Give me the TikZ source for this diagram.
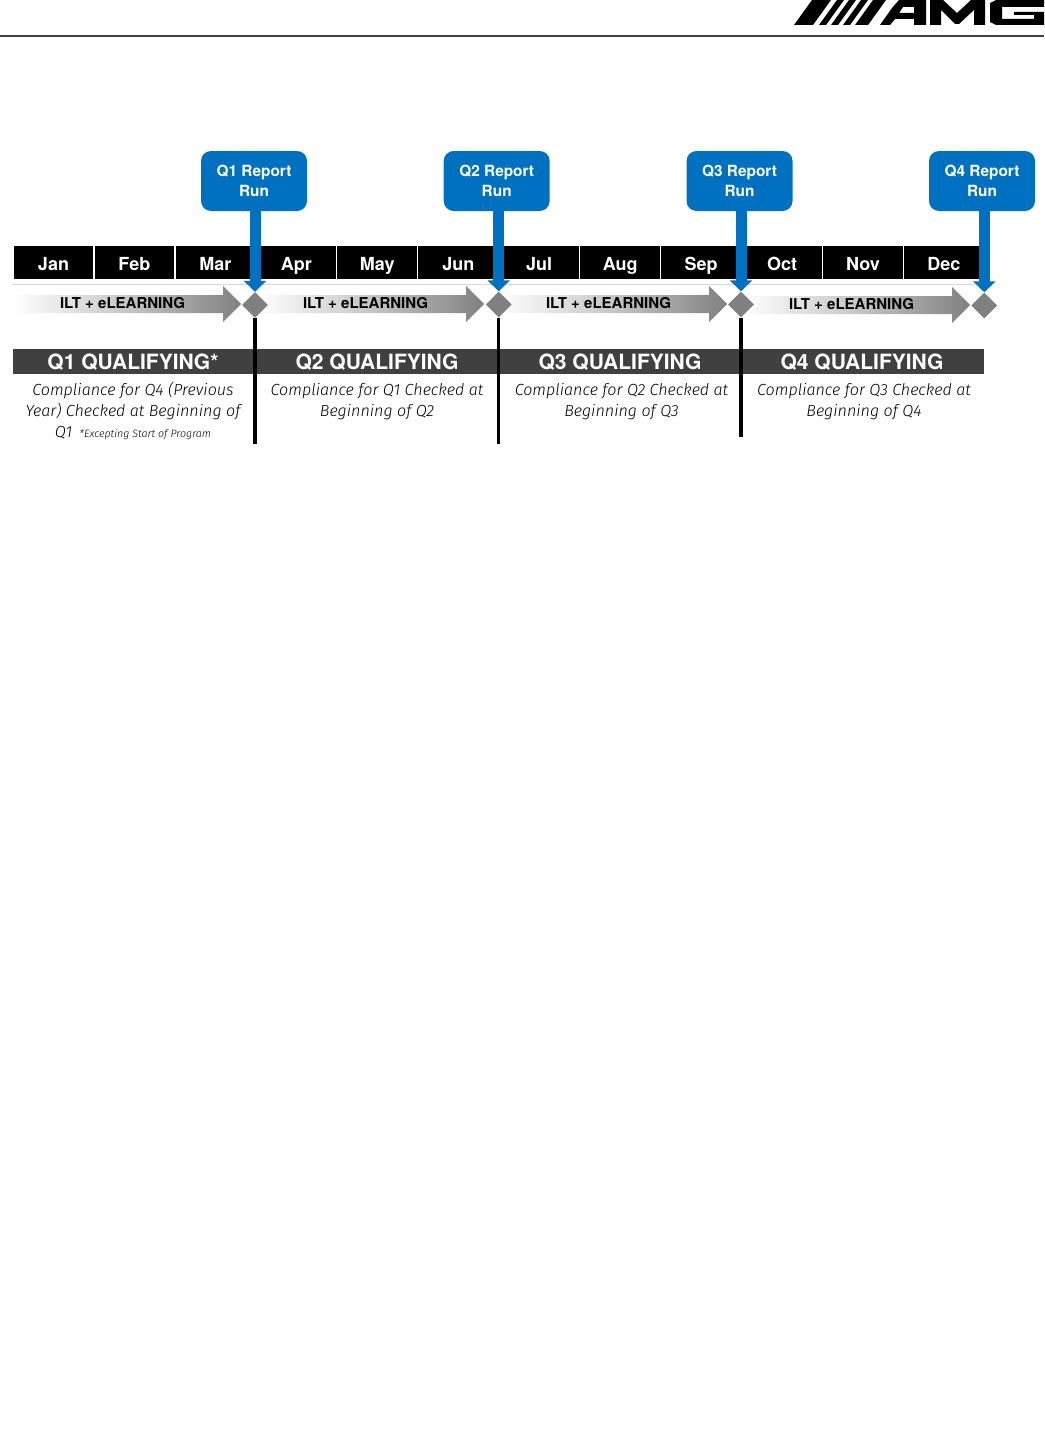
\documentclass[tikz,border=0pt]{standalone}
\usepackage{fontspec}
\setmainfont{TeX Gyre Heros}
\newfontfamily\descfont[ItalicFont={Fira Sans Light Italic}]{Fira Sans Light}
\usetikzlibrary{arrows.meta,shapes.geometric}
\definecolor{qblue}{HTML}{0070C0}
\definecolor{qdark}{HTML}{404040}
\definecolor{qgray}{HTML}{808080}
\tikzset{
  month/.style={fill=black,text=white,draw=white,line width=1.2pt,minimum width=81pt,minimum height=33.5pt,inner sep=0pt,font=\fontsize{18}{20}\selectfont\bfseries,text height=16pt,text depth=1pt},
  report/.style={fill=qblue,text=white,rounded corners=10pt,minimum width=106pt,minimum height=60pt,inner sep=0pt,align=center,font=\fontsize{15.4}{20}\selectfont\bfseries},
  runarrow/.style={draw=qblue,line width=11pt,-{Triangle[width=22pt,length=11pt]}},
  gate/.style={diamond,fill=qgray,minimum width=26pt,minimum height=26pt,inner sep=0pt,aspect=1},
  blackline/.style={draw=black,line width=3.5pt},
  band/.style={fill=qdark,minimum height=24.5pt,inner sep=0pt},
  bandtext/.style={text=white,inner sep=0pt,font=\fontsize{21}{24}\selectfont\bfseries},
  desc/.style={align=center,inner sep=0pt,font=\descfont\itshape\fontsize{16.1}{21}\selectfont},
  ilt/.style={inner sep=0pt,font=\fontsize{15}{17}\selectfont\bfseries,text=black}
}
\newcommand{\iltarrow}[2]{% start x, centre y
  \shade[left color=white,right color=qgray,middle color=white!55!qgray]
    (#1,#2-9) -- (#1+209,#2-9) -- (#1+209,#2-18) -- (#1+227,#2) -- (#1+209,#2+18) -- (#1+209,#2+9) -- (#1,#2+9) -- cycle;
}
\begin{document}
\begin{tikzpicture}[x=1pt,y=-1pt]
\useasboundingbox (0,0) rectangle (1044,1445);
\fill[white] (0,0) rectangle (1044,1445);
% header rule and logo
\fill[black!75] (0,35.3) rectangle (1044,36.8);
\fill[black] (794,25) -- (812,0) -- (831,0) -- (813,25) -- cycle;
\fill[black] (819,25) -- (837,0) -- (844,0) -- (826,25) -- cycle;
\fill[black] (831,25) -- (849,0) -- (856,0) -- (838,25) -- cycle;
\fill[black] (843,25) -- (861,0) -- (868,0) -- (850,25) -- cycle;
\fill[black] (855,25) -- (873,0) -- (886,0) -- (868,25) -- cycle;
\fill[black,even odd rule] (880,25) -- (892,8) -- (899,0) -- (926,0) -- (926,25) -- (914,25) -- (914,19) -- (895,19) -- (890,25) -- cycle (899,13) -- (914,13) -- (914,7) -- (903,7) -- cycle;
\fill[black] (930,25) -- (930,0) -- (943,0) -- (957,13) -- (971,0) -- (985,0) -- (985,25) -- (974,25) -- (974,10) -- (959,24) -- (955,24) -- (941,10) -- (941,25) -- cycle;
\fill[black] (1044,0) -- (996,0) -- (990,3) -- (990,22) -- (996,25) -- (1044,25) -- (1044,12) -- (1014,12) -- (1014,15) -- (1034,15) -- (1034,19) -- (1002,19) -- (1002,7) -- (1044,7) -- cycle;
% light rule under the months
\draw[black!15,line width=1pt] (12,284.5) -- (990,284.5);
% months
\foreach \m/\i in {Jan/0,Feb/1,Mar/2,Apr/3,May/4,Jun/5,Jul/6,Aug/7,Sep/8,Oct/9,Nov/10,Dec/11}
  \node[month] (m\m) at ({53.5+\i*80.95},262.5) {\m};
% ILT arrows
\iltarrow{14}{304}
\iltarrow{257}{304}
\iltarrow{500}{304}
\iltarrow{743}{305}
\node[ilt] (i1) at (122.5,303.5) {ILT + eLEARNING};
\node[ilt] (i2) at (365.5,303.5) {ILT + eLEARNING};
\node[ilt] (i3) at (608.5,303.5) {ILT + eLEARNING};
\node[ilt] (i4) at (851.5,304) {ILT + eLEARNING};
% bands
\node[band,minimum width=243pt] (b1) at (134.5,361.7) {};
\node[band,minimum width=243pt] (b2) at (377.5,361.7) {};
\node[band,minimum width=243pt] (b3) at (620.5,361.7) {};
\node[band,minimum width=242pt] (b4) at (863,361.7) {};
\node[bandtext] (t1) at (133,361.7) {Q1 QUALIFYING*};
\node[bandtext] (t2) at (377,361.7) {Q2 QUALIFYING};
\node[bandtext] (t3) at (620,361.7) {Q3 QUALIFYING};
\node[bandtext] (t4) at (862,361.7) {Q4 QUALIFYING};
% descriptions
\node[desc,anchor=north] (d1) at (133,381.5) {Compliance for Q4 (Previous\\Year) Checked at Beginning of\\Q1 \,{\fontsize{10.7}{12}\selectfont *Excepting Start of Program}};
\node[desc,anchor=north] (d2) at (377,383.5) {Compliance for Q1 Checked at\\Beginning of Q2};
\node[desc,anchor=north] (d3) at (621.5,383.5) {Compliance for Q2 Checked at\\Beginning of Q3};
\node[desc,anchor=north] (d4) at (864,383.5) {Compliance for Q3 Checked at\\Beginning of Q4};
% gates
\node[gate] (g1) at (255,305) {};
\node[gate] (g2) at (498.7,304.5) {};
\node[gate] (g3) at (741,304.5) {};
\node[gate] (g4) at (984.3,305.5) {};
% end points of black lines
\coordinate (e1) at (255,444);
\coordinate (e2) at (498.7,444);
\coordinate (e3) at (741,437);
\draw[blackline] (g1.south) -- (e1);
\draw[blackline] (g2.south) -- (e2);
\draw[blackline] (g3.south) -- (e3);
% reports
\node[report] (r1) at (254,181) {Q1 Report\\Run};
\node[report] (r2) at (496.7,181) {Q2 Report\\Run};
\node[report] (r3) at (739.5,181) {Q3 Report\\Run};
\node[report] (r4) at (982,181) {Q4 Report\\Run};
\draw[runarrow] (g1.north |- r1.south) -- (g1.north);
\draw[runarrow] (g2.north |- r2.south) -- (g2.north);
\draw[runarrow] (g3.north |- r3.south) -- (g3.north);
\draw[runarrow] (g4.north |- r4.south) -- (g4.north);
\end{tikzpicture}
\end{document}
